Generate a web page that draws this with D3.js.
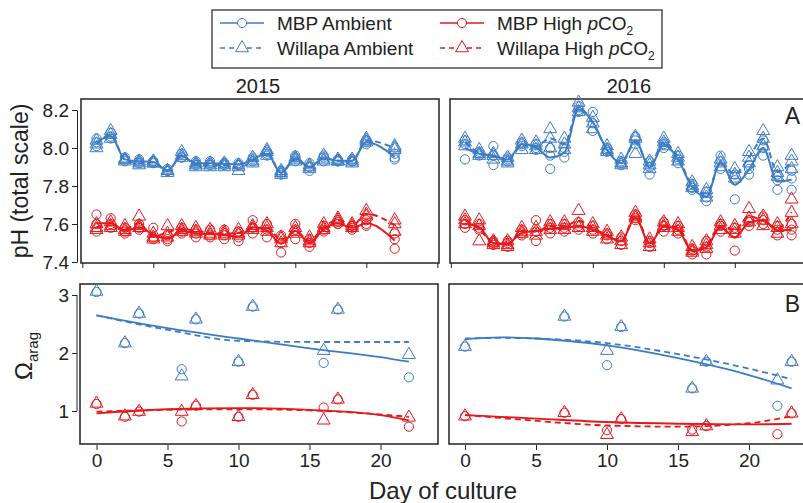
<!DOCTYPE html>
<html>
<head>
<meta charset="utf-8">
<script src="https://cdn.jsdelivr.net/npm/d3@7"></script>
<style>
body { margin: 0; background: #fff; }
svg { display: block; font-family: "Liberation Sans", Arial, Helvetica, sans-serif; }
</style>
</head>
<body>
<svg id="chart" width="803" height="503"></svg>
<script>
// ---- pH replicates (top panels), one array of replicate values per day ----
var days15 = [0, 1, 2, 3, 4, 5, 6, 7, 8, 9, 10, 11, 12, 13, 14, 15, 16, 17, 18, 19, 21];
var mbpAmb15 = [[8.05,8.03,8.01],[8.08,8.06,8.05],[7.95,7.94,7.93],[7.94,7.93,7.92],[7.93,7.93,7.92],[7.89,7.88,7.88],[7.97,7.95,7.95],[7.93,7.92,7.91],[7.93,7.92,7.91],[7.92,7.92,7.91],[7.92,7.91,7.91],[7.95,7.94,7.93],[7.98,7.97,7.96],[7.88,7.87,7.86],[7.96,7.95,7.93],[7.92,7.90,7.88],[7.96,7.95,7.93],[7.94,7.93,7.93],[7.94,7.93,7.93],[8.04,8.03,8.02],[7.97,7.95,7.94]];
var wilAmb15 = [[8.04,8.02,8.00],[8.09,8.07,8.05],[7.94,7.94,7.93],[7.93,7.92,7.91],[7.93,7.92,7.92],[7.88,7.88,7.87],[7.98,7.96,7.95],[7.92,7.91,7.90],[7.92,7.91,7.90],[7.92,7.91,7.90],[7.91,7.90,7.88],[7.95,7.93,7.92],[7.99,7.98,7.96],[7.88,7.87,7.86],[7.95,7.94,7.93],[7.91,7.90,7.89],[7.96,7.94,7.93],[7.94,7.93,7.93],[7.94,7.93,7.92],[8.05,8.04,8.03],[8.01,8.00,7.99]];
var mbpHigh15 = [[7.65,7.60,7.56],[7.63,7.60,7.58],[7.58,7.56,7.55],[7.60,7.58,7.57],[7.58,7.53,7.52],[7.54,7.52,7.51],[7.58,7.56,7.55],[7.57,7.55,7.53],[7.57,7.54,7.53],[7.57,7.54,7.52],[7.56,7.53,7.51],[7.62,7.58,7.55],[7.60,7.57,7.53],[7.54,7.50,7.45],[7.60,7.57,7.52],[7.52,7.50,7.48],[7.59,7.57,7.56],[7.61,7.60,7.60],[7.59,7.58,7.57],[7.62,7.60,7.59],[7.55,7.52,7.47]];
var wilHigh15 = [[7.60,7.58,7.57],[7.61,7.59,7.58],[7.59,7.57,7.56],[7.64,7.59,7.58],[7.55,7.53,7.52],[7.59,7.55,7.53],[7.59,7.57,7.56],[7.58,7.56,7.55],[7.57,7.55,7.54],[7.56,7.55,7.54],[7.57,7.55,7.54],[7.59,7.58,7.57],[7.60,7.58,7.56],[7.53,7.52,7.50],[7.58,7.56,7.55],[7.53,7.51,7.50],[7.60,7.58,7.57],[7.63,7.62,7.61],[7.60,7.59,7.58],[7.67,7.65,7.64],[7.62,7.60,7.56]];

var days16 = [0, 1, 2, 3, 4, 5, 6, 7, 8, 9, 10, 11, 12, 13, 14, 15, 16, 17, 18, 19, 20, 21, 22, 23];
var mbpAmb16 = [[8.04,8.02,7.94],[7.98,7.97,7.96],[8.01,7.96,7.91],[7.95,7.94,7.93],[8.03,8.02,8.01],[8.02,8.00,7.99],[8.00,7.96,7.89],[8.00,7.98,7.95],[8.22,8.20,8.19],[8.19,8.13,8.09],[8.00,7.99,7.98],[7.93,7.92,7.91],[8.06,8.04,8.02],[7.93,7.90,7.86],[8.03,8.02,8.00],[7.96,7.94,7.92],[7.81,7.79,7.78],[7.77,7.74,7.72],[7.96,7.93,7.89],[7.86,7.83,7.73],[7.91,7.89,7.86],[8.04,8.00,7.96],[7.86,7.83,7.78],[7.88,7.84,7.78]];
var wilAmb16 = [[8.05,8.03,8.01],[7.99,7.97,7.96],[7.97,7.96,7.94],[7.95,7.93,7.92],[8.04,8.02,7.99],[8.03,8.01,7.99],[8.10,8.05,8.00],[8.05,8.02,7.99],[8.24,8.21,8.19],[8.16,8.13,8.10],[8.01,7.99,7.98],[7.94,7.92,7.91],[8.06,8.05,7.97],[7.93,7.91,7.89],[8.05,8.03,8.01],[7.97,7.95,7.93],[7.82,7.80,7.79],[7.78,7.76,7.74],[7.94,7.92,7.90],[7.89,7.86,7.84],[7.98,7.95,7.92],[8.09,8.05,8.01],[7.90,7.87,7.85],[7.96,7.93,7.89]];
var mbpHigh16 = [[7.62,7.60,7.58],[7.60,7.58,7.57],[7.51,7.50,7.49],[7.51,7.50,7.48],[7.57,7.55,7.54],[7.62,7.56,7.51],[7.60,7.58,7.55],[7.60,7.58,7.56],[7.61,7.59,7.57],[7.59,7.57,7.55],[7.55,7.54,7.52],[7.53,7.51,7.49],[7.65,7.63,7.62],[7.51,7.50,7.48],[7.61,7.59,7.56],[7.59,7.57,7.55],[7.47,7.46,7.44],[7.51,7.48,7.44],[7.60,7.59,7.56],[7.58,7.55,7.46],[7.62,7.61,7.59],[7.64,7.62,7.60],[7.59,7.57,7.54],[7.60,7.57,7.54]];
var wilHigh16 = [[7.64,7.62,7.60],[7.62,7.59,7.51],[7.51,7.50,7.49],[7.51,7.49,7.48],[7.58,7.56,7.55],[7.58,7.56,7.54],[7.61,7.59,7.57],[7.61,7.59,7.57],[7.67,7.60,7.58],[7.60,7.58,7.56],[7.56,7.54,7.52],[7.53,7.51,7.49],[7.66,7.64,7.63],[7.52,7.50,7.48],[7.61,7.59,7.58],[7.60,7.58,7.56],[7.48,7.46,7.45],[7.51,7.49,7.47],[7.61,7.59,7.57],[7.59,7.57,7.55],[7.68,7.63,7.61],[7.64,7.62,7.59],[7.60,7.58,7.55],[7.73,7.66,7.60]];

// ---- omega aragonite (bottom panels) ----
var omDays15 = [0, 2, 3, 6, 7, 10, 11, 16, 17, 22];
var mbpAmbOm15 = [3.05, 2.17, 2.68, 1.72, 2.58, 1.85, 2.80, 1.83, 2.75, 1.58];
var wilAmbOm15 = [3.06, 2.17, 2.68, 1.60, 2.58, 1.85, 2.80, 2.04, 2.75, 1.97];
var mbpHighOm15 = [1.12, 0.90, 0.99, 0.82, 1.09, 0.90, 1.28, 1.06, 1.20, 0.73];
var wilHighOm15 = [1.13, 0.91, 0.99, 0.99, 1.09, 0.90, 1.28, 0.84, 1.20, 0.89];

var omDays16 = [0, 7, 10, 11, 16, 17, 22, 23];
var mbpAmbOm16 = [2.11, 2.63, 1.79, 2.45, 1.39, 1.85, 1.09, 1.85];
var wilAmbOm16 = [2.11, 2.63, 2.04, 2.45, 1.39, 1.85, 1.53, 1.85];
var mbpHighOm16 = [0.91, 0.97, 0.67, 0.86, 0.68, 0.74, 0.60, 0.96];
var wilHighOm16 = [0.91, 0.97, 0.59, 0.86, 0.64, 0.74, null, 0.96];

// fitted trend curves
var fitDays15 = [0, 5, 10, 15, 20, 22];
var fitMbpAmb15 = [2.65, 2.43, 2.25, 2.08, 1.93, 1.85];
var fitWilAmb15 = [2.65, 2.40, 2.21, 2.19, 2.19, 2.19];
var fitMbpHigh15 = [0.96, 1.03, 1.05, 1.02, 0.93, 0.84];
var fitWilHigh15 = [0.99, 1.02, 1.03, 1.01, 0.94, 0.90];

var fitDays16 = [0, 2.5, 5, 10, 15, 20, 23];
var fitMbpAmb16 = [2.24, 2.27, 2.25, 2.13, 1.91, 1.62, 1.39];
var fitWilAmb16 = [2.25, 2.26, 2.25, 2.17, 1.98, 1.73, 1.55];
var fitMbpHigh16 = [0.93, 0.90, 0.87, 0.81, 0.78, 0.77, 0.78];
var fitWilHigh16 = [0.93, 0.88, 0.83, 0.75, 0.73, 0.79, 0.91];

var phTicks = [7.4, 7.6, 7.8, 8.0, 8.2];
var omTicks = [1, 2, 3];
var dayTicks = [0, 5, 10, 15, 20];
var topTickDays = [-1, 4, 9, 14, 19, 24];

var blue = "#3b7cc5", red = "#e5191c", ink = "#222";
var dash = "6,4";

var svg = d3.select("#chart");

var x15 = d3.scaleLinear().domain([0, 20]).range([96.5, 380.5]);
var x16 = d3.scaleLinear().domain([0, 20]).range([465, 749]);
var yPH = d3.scaleLinear().domain([7.4, 8.2]).range([262, 110]);
var yOm = d3.scaleLinear().domain([1, 3]).range([411, 295]);

var tri = d3.symbol().type(d3.symbolTriangle).size(72);

function frame(x0, y0, x1, y1) {
    svg.append("rect")
        .attr("x", x0).attr("y", y0)
        .attr("width", x1 - x0).attr("height", y1 - y0)
        .attr("fill", "none")
        .attr("stroke", ink)
        .attr("stroke-width", 1.5);
}

function markers(g, pts, xs, ys, color, shape) {
    if (shape === "circle") {
        g.selectAll(null).data(pts).enter().append("circle")
            .attr("cx", d => xs(d.day))
            .attr("cy", d => ys(d.v))
            .attr("r", 4.6)
            .attr("fill", "none")
            .attr("stroke", color)
            .attr("stroke-width", 1);
    } else {
        g.selectAll(null).data(pts).enter().append("path")
            .attr("d", tri)
            .attr("transform", d => "translate(" + xs(d.day) + "," + ys(d.v) + ")")
            .attr("fill", "none")
            .attr("stroke", color)
            .attr("stroke-width", 1);
    }
}

function phPanel(xs, days, series) {
    var g = svg.append("g");
    series.forEach(function (s) {
        var pts = [];
        days.forEach(function (day, i) {
            s.vals[i].forEach(function (v) { pts.push({ day: day, v: v }); });
        });
        markers(g, pts, xs, yPH, s.color, s.shape);
    });
    series.forEach(function (s) {
        var means = days.map(function (day, i) { return { day: day, v: d3.mean(s.vals[i]) }; });
        g.append("path")
            .attr("d", d3.line().x(d => xs(d.day)).y(d => yPH(d.v)).curve(d3.curveMonotoneX)(means))
            .attr("fill", "none")
            .attr("stroke", s.color)
            .attr("stroke-width", 2)
            .attr("stroke-dasharray", s.dashed ? dash : null);
    });
}

function omPanel(xs, days, fitDays, series) {
    var g = svg.append("g");
    series.forEach(function (s) {
        var pts = [];
        days.forEach(function (day, i) { if (s.vals[i] != null) pts.push({ day: day, v: s.vals[i] }); });
        markers(g, pts, xs, yOm, s.color, s.shape);
    });
    series.forEach(function (s) {
        var fit = fitDays.map(function (day, i) { return { day: day, v: s.fit[i] }; });
        g.append("path")
            .attr("d", d3.line().x(d => xs(d.day)).y(d => yOm(d.v)).curve(d3.curveMonotoneX)(fit))
            .attr("fill", "none")
            .attr("stroke", s.color)
            .attr("stroke-width", 1.8)
            .attr("stroke-dasharray", s.dashed ? dash : null);
    });
}

// frames
frame(81, 99, 439, 263);
frame(450, 99, 810, 263);
frame(80, 284, 438, 444);
frame(449, 284, 810, 444);

phPanel(x15, days15, [
    { vals: mbpAmb15, color: blue, shape: "circle", dashed: false },
    { vals: wilAmb15, color: blue, shape: "tri", dashed: true },
    { vals: mbpHigh15, color: red, shape: "circle", dashed: false },
    { vals: wilHigh15, color: red, shape: "tri", dashed: true }
]);
phPanel(x16, days16, [
    { vals: mbpAmb16, color: blue, shape: "circle", dashed: false },
    { vals: wilAmb16, color: blue, shape: "tri", dashed: true },
    { vals: mbpHigh16, color: red, shape: "circle", dashed: false },
    { vals: wilHigh16, color: red, shape: "tri", dashed: true }
]);
omPanel(x15, omDays15, fitDays15, [
    { vals: mbpAmbOm15, fit: fitMbpAmb15, color: blue, shape: "circle", dashed: false },
    { vals: wilAmbOm15, fit: fitWilAmb15, color: blue, shape: "tri", dashed: true },
    { vals: mbpHighOm15, fit: fitMbpHigh15, color: red, shape: "circle", dashed: false },
    { vals: wilHighOm15, fit: fitWilHigh15, color: red, shape: "tri", dashed: true }
]);
omPanel(x16, omDays16, fitDays16, [
    { vals: mbpAmbOm16, fit: fitMbpAmb16, color: blue, shape: "circle", dashed: false },
    { vals: wilAmbOm16, fit: fitWilAmb16, color: blue, shape: "tri", dashed: true },
    { vals: mbpHighOm16, fit: fitMbpHigh16, color: red, shape: "circle", dashed: false },
    { vals: wilHighOm16, fit: fitWilHigh16, color: red, shape: "tri", dashed: true }
]);

// axes
function styleAxis(sel) {
    sel.selectAll("path.domain").attr("stroke", ink);
    sel.selectAll(".tick line").attr("stroke", ink);
    sel.selectAll(".tick text").attr("fill", ink).style("font-size", "19px")
        .style("font-family", '"Liberation Sans", Arial, sans-serif');
}

svg.append("g").attr("transform", "translate(77,0)")
    .call(d3.axisLeft(yPH).tickValues(phTicks).tickFormat(d3.format(".1f")).tickSize(5).tickSizeOuter(0).tickPadding(3))
    .call(styleAxis);
svg.append("g").attr("transform", "translate(77,0)")
    .call(d3.axisLeft(yOm).tickValues(omTicks).tickFormat(d3.format("d")).tickSize(5).tickSizeOuter(0).tickPadding(3))
    .call(g => g.select(".domain").attr("d", "M-0," + yOm(3) + "V" + yOm(1)))
    .call(styleAxis);

[x15, x16].forEach(function (xs) {
    svg.append("g").attr("transform", "translate(0,263)")
        .call(d3.axisBottom(xs).tickValues(topTickDays).tickFormat("").tickSize(5).tickSizeOuter(0))
        .call(g => g.select(".domain").remove())
        .call(styleAxis);
    svg.append("g").attr("transform", "translate(0,445)")
        .call(d3.axisBottom(xs).tickValues(dayTicks).tickSize(5).tickSizeOuter(0).tickPadding(4))
        .call(g => g.select(".domain").remove())
        .call(styleAxis);
});

// titles
svg.append("text").attr("x", 258).attr("y", 93).attr("text-anchor", "middle")
    .attr("fill", ink).style("font-size", "20px").text("2015");
svg.append("text").attr("x", 629).attr("y", 93).attr("text-anchor", "middle")
    .attr("fill", ink).style("font-size", "20px").text("2016");
svg.append("text").attr("x", 800).attr("y", 124).attr("text-anchor", "end")
    .attr("fill", ink).style("font-size", "23px").text("A");
svg.append("text").attr("x", 800).attr("y", 312).attr("text-anchor", "end")
    .attr("fill", ink).style("font-size", "23px").text("B");

svg.append("text").attr("transform", "translate(28,181) rotate(-90)")
    .attr("text-anchor", "middle").attr("fill", ink).style("font-size", "23px")
    .text("pH (total scale)");
var om = svg.append("text").attr("transform", "translate(32,356) rotate(-90)")
    .attr("text-anchor", "middle").attr("fill", ink).style("font-size", "24px");
om.append("tspan").text("\u03A9");
om.append("tspan").attr("dy", 6).style("font-size", "15px").text("arag");

svg.append("text").attr("x", 443).attr("y", 499).attr("text-anchor", "middle")
    .attr("fill", ink).style("font-size", "24px").text("Day of culture");

// legend
var legend = svg.append("g");
legend.append("rect").attr("x", 212).attr("y", 10).attr("width", 450).attr("height", 58)
    .attr("fill", "#fff").attr("stroke", ink).attr("stroke-width", 1.2);

var legendItems = [
    { name: "MBP Ambient", color: blue, shape: "circle", dashed: false, high: false, col: 0, row: 0 },
    { name: "Willapa Ambient", color: blue, shape: "tri", dashed: true, high: false, col: 0, row: 1 },
    { name: "MBP High ", color: red, shape: "circle", dashed: false, high: true, col: 1, row: 0 },
    { name: "Willapa High ", color: red, shape: "tri", dashed: true, high: true, col: 1, row: 1 }
];
var colX = [220, 440], rowY = [23, 48];
legendItems.forEach(function (it) {
    var x0 = colX[it.col], y0 = rowY[it.row];
    legend.append("line").attr("x1", x0).attr("x2", x0 + 44).attr("y1", y0).attr("y2", y0)
        .attr("stroke", it.color).attr("stroke-width", 1.5)
        .attr("stroke-dasharray", it.dashed ? "5,4" : null);
    if (it.shape === "circle") {
        legend.append("circle").attr("cx", x0 + 22).attr("cy", y0).attr("r", 4.6)
            .attr("fill", "#fff").attr("stroke", it.color).attr("stroke-width", 1);
    } else {
        legend.append("path").attr("d", tri).attr("transform", "translate(" + (x0 + 22) + "," + y0 + ")")
            .attr("fill", "#fff").attr("stroke", it.color).attr("stroke-width", 1);
    }
    var t = legend.append("text").attr("x", x0 + 57).attr("y", y0 + 7)
        .attr("fill", ink).style("font-size", "19px");
    t.append("tspan").text(it.name);
    if (it.high) {
        t.append("tspan").style("font-style", "italic").text("p");
        t.append("tspan").text("CO");
        t.append("tspan").attr("dy", 5).style("font-size", "12px").text("2");
    }
});
</script>
</body>
</html>
